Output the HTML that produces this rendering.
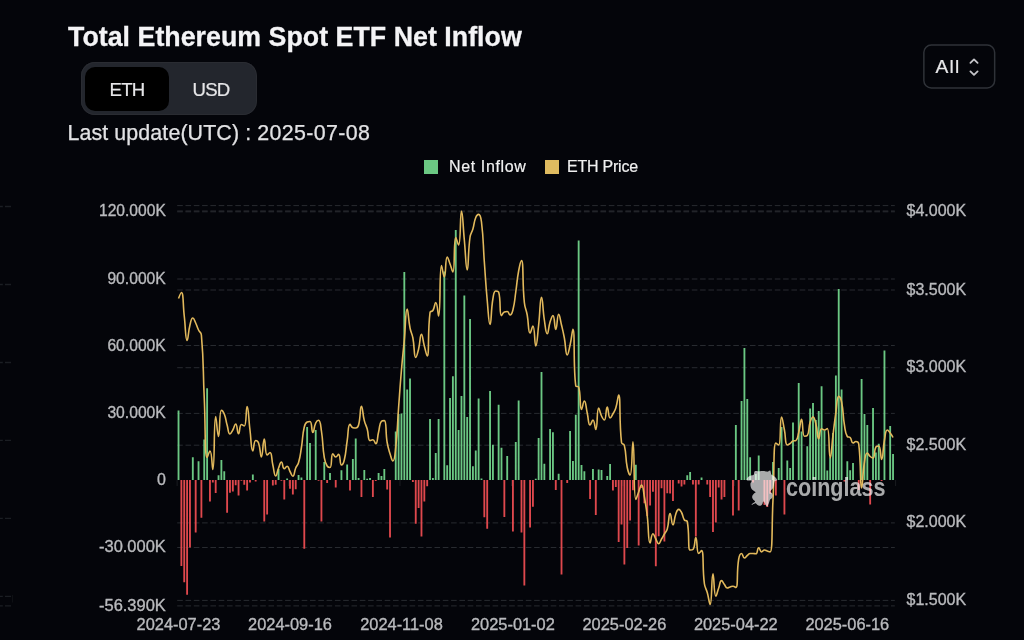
<!DOCTYPE html>
<html lang="en"><head><meta charset="utf-8"><title>Total Ethereum Spot ETF Net Inflow</title>
<style>
html,body{margin:0;padding:0;background:#04050a;}
body{width:1024px;height:640px;position:relative;overflow:hidden;font-family:"Liberation Sans",Arial,sans-serif;color:#ececec;}
.title{position:absolute;left:68px;top:20.5px;font-size:26.75px;font-weight:700;line-height:32px;color:#f4f4f6;white-space:nowrap;letter-spacing:0.03px;-webkit-text-stroke:0.3px #f4f4f6;}
.toggle{position:absolute;left:81px;top:62px;width:176px;height:53px;border-radius:14px;background:#23262d;box-sizing:border-box;box-shadow:inset 0 0 0 1px #2a2c32;}
.toggle .on{position:absolute;left:4px;top:4.5px;width:84px;height:44px;border-radius:10px;background:#000;}
.toggle span{position:absolute;top:0.5px;-webkit-text-stroke:0.2px #e6e6e8;height:52px;line-height:53px;font-size:18.6px;letter-spacing:-0.8px;color:#e6e6e8;text-align:center;width:84px;}
.toggle .a{left:4px;} .toggle .b{left:88px;}
.upd{position:absolute;left:67.5px;top:119.6px;font-size:21.4px;line-height:26px;color:#e2e2e4;white-space:nowrap;letter-spacing:0.1px;-webkit-text-stroke:0.25px #e2e2e4;}
.upd span{letter-spacing:0.37px;}
.sel{position:absolute;left:923px;top:44px;width:72.5px;height:45px;border:0;box-sizing:border-box;}
.sel span{position:absolute;left:12.5px;top:0.9px;line-height:43px;font-size:19.2px;letter-spacing:1.25px;color:#e8e8ea;-webkit-text-stroke:0.2px #e8e8ea;}
.chev{position:absolute;left:965.5px;top:54.5px;}
.legend{position:absolute;top:156px;left:0;font-size:16px;line-height:20px;color:#ececec;white-space:nowrap;}
.legend i{position:absolute;top:4px;width:14px;height:14px;display:block;}
.legend b{position:absolute;top:1.2px;color:#f0f0f0;font-weight:400;-webkit-text-stroke:0.2px #f0f0f0;letter-spacing:0.55px;}
.chart{position:absolute;left:0;top:0;}
</style></head><body>
<div class="title">Total Ethereum Spot ETF Net Inflow</div>
<div class="toggle"><div class="on"></div><span class="a">ETH</span><span class="b">USD</span></div>
<div class="upd">Last update(UTC) : <span>2025-07-08</span></div>
<div class="sel"><span>All</span></div><svg class="chev" width="16" height="24" viewBox="0 0 16 24"><path d="M4.400 7.900L8 4.400L11.600 7.900M4.400 16.400L8 19.900L11.600 16.400" fill="none" stroke="#c6c6ca" stroke-width="1.8" stroke-linecap="round" stroke-linejoin="round"/></svg>
<div class="legend"><i style="left:424px;background:#6bc883"></i><b style="left:449px;letter-spacing:0.62px">Net Inflow</b><i style="left:545px;background:#dfbb60"></i><b style="left:567px;letter-spacing:-0.23px">ETH Price</b></div>
<svg class="chart" width="1024" height="640" viewBox="0 0 1024 640"><g stroke="#282b30" stroke-width="1" stroke-dasharray="5.6 2.7" fill="none"><path d="M177.2 205.6H894.8"/><path d="M177.2 211.0H894.8"/><path d="M177.2 279.0H894.8"/><path d="M177.2 345.5H894.8"/><path d="M177.2 413.4H894.8"/><path d="M177.2 547.5H894.8"/><path d="M177.2 605.9H894.8"/><path d="M177.2 211.8H894.8"/><path d="M177.2 290.0H894.8"/><path d="M177.2 367.7H894.8"/><path d="M177.2 445.2H894.8"/><path d="M177.2 522.9H894.8"/><path d="M177.2 600.4H894.8"/></g><g stroke="#1b1e23" stroke-width="1.4" fill="none"><path d="M0 206.5H2.800M5 206.5H11"/><path d="M0 284.5H2.800M5 284.5H11"/><path d="M0 362.5H2.800M5 362.5H11"/><path d="M0 440.4H2.800M5 440.4H11"/><path d="M0 518.4H2.800M5 518.4H11"/><path d="M0 596.4H2.800M5 596.4H11"/><path d="M0 605.9H2.800M5 605.9H11"/><path d="M12.5 595V602.5" stroke="#0e1014" stroke-width="1"/></g><g stroke="#1a1c21" stroke-width="1"><path d="M177.1 480V486"/><path d="M288.6 480V486"/><path d="M400.0 480V486"/><path d="M511.5 480V486"/><path d="M622.9 480V486"/><path d="M734.4 480V486"/><path d="M845.9 480V486"/><path d="M895.6 480V486"/></g><path fill="#6bc883" d="M177.60 410.60h1.85V479.9h-1.85zM191.89 457.25h1.85V479.9h-1.85zM197.61 461.25h1.85V479.9h-1.85zM203.33 439.40h1.85V479.9h-1.85zM206.19 388.30h1.85V479.9h-1.85zM217.62 475.25h1.85V479.9h-1.85zM220.47 460.00h1.85V479.9h-1.85zM223.33 471.25h1.85V479.9h-1.85zM251.91 474.50h1.85V479.9h-1.85zM277.63 469.00h1.85V479.9h-1.85zM286.21 478.50h1.85V479.9h-1.85zM297.64 475.00h1.85V479.9h-1.85zM300.50 477.50h1.85V479.9h-1.85zM306.21 426.90h1.85V479.9h-1.85zM309.07 443.10h1.85V479.9h-1.85zM314.79 430.00h1.85V479.9h-1.85zM323.36 461.90h1.85V479.9h-1.85zM329.08 472.90h1.85V479.9h-1.85zM340.51 470.25h1.85V479.9h-1.85zM346.23 464.40h1.85V479.9h-1.85zM351.94 459.00h1.85V479.9h-1.85zM354.80 438.50h1.85V479.9h-1.85zM357.66 478.00h1.85V479.9h-1.85zM363.38 470.00h1.85V479.9h-1.85zM366.23 478.70h1.85V479.9h-1.85zM369.09 478.00h1.85V479.9h-1.85zM377.67 473.00h1.85V479.9h-1.85zM380.52 476.00h1.85V479.9h-1.85zM383.38 469.00h1.85V479.9h-1.85zM394.81 431.50h1.85V479.9h-1.85zM397.67 414.00h1.85V479.9h-1.85zM400.53 413.50h1.85V479.9h-1.85zM403.39 272.00h1.85V479.9h-1.85zM406.25 389.50h1.85V479.9h-1.85zM409.10 378.50h1.85V479.9h-1.85zM429.11 419.00h1.85V479.9h-1.85zM431.97 478.00h1.85V479.9h-1.85zM434.82 453.00h1.85V479.9h-1.85zM437.68 419.00h1.85V479.9h-1.85zM443.40 271.50h1.85V479.9h-1.85zM446.26 465.25h1.85V479.9h-1.85zM449.11 398.00h1.85V479.9h-1.85zM451.97 376.25h1.85V479.9h-1.85zM454.83 230.00h1.85V479.9h-1.85zM457.69 430.00h1.85V479.9h-1.85zM460.55 396.00h1.85V479.9h-1.85zM463.41 295.60h1.85V479.9h-1.85zM466.26 417.00h1.85V479.9h-1.85zM469.12 319.00h1.85V479.9h-1.85zM471.98 466.25h1.85V479.9h-1.85zM474.84 450.60h1.85V479.9h-1.85zM477.69 398.50h1.85V479.9h-1.85zM480.55 478.50h1.85V479.9h-1.85zM489.13 391.00h1.85V479.9h-1.85zM491.98 444.75h1.85V479.9h-1.85zM497.70 404.75h1.85V479.9h-1.85zM500.56 447.75h1.85V479.9h-1.85zM506.28 455.90h1.85V479.9h-1.85zM514.85 441.90h1.85V479.9h-1.85zM517.71 400.60h1.85V479.9h-1.85zM534.86 478.75h1.85V479.9h-1.85zM537.71 438.00h1.85V479.9h-1.85zM540.57 371.90h1.85V479.9h-1.85zM543.43 463.75h1.85V479.9h-1.85zM549.15 429.00h1.85V479.9h-1.85zM552.00 432.25h1.85V479.9h-1.85zM557.72 473.75h1.85V479.9h-1.85zM569.15 431.00h1.85V479.9h-1.85zM572.01 460.90h1.85V479.9h-1.85zM574.87 414.75h1.85V479.9h-1.85zM577.73 240.60h1.85V479.9h-1.85zM580.58 465.00h1.85V479.9h-1.85zM583.44 471.25h1.85V479.9h-1.85zM592.02 469.00h1.85V479.9h-1.85zM597.73 469.40h1.85V479.9h-1.85zM600.59 470.00h1.85V479.9h-1.85zM606.31 476.00h1.85V479.9h-1.85zM609.16 464.00h1.85V479.9h-1.85zM634.89 464.75h1.85V479.9h-1.85zM686.33 475.20h1.85V479.9h-1.85zM689.19 472.00h1.85V479.9h-1.85zM700.62 477.40h1.85V479.9h-1.85zM734.92 425.00h1.85V479.9h-1.85zM740.63 401.00h1.85V479.9h-1.85zM743.49 348.10h1.85V479.9h-1.85zM746.35 399.00h1.85V479.9h-1.85zM749.21 457.25h1.85V479.9h-1.85zM754.92 474.00h1.85V479.9h-1.85zM757.78 455.60h1.85V479.9h-1.85zM772.07 462.00h1.85V479.9h-1.85zM777.79 468.00h1.85V479.9h-1.85zM780.64 427.00h1.85V479.9h-1.85zM786.36 460.60h1.85V479.9h-1.85zM789.22 468.00h1.85V479.9h-1.85zM792.08 422.50h1.85V479.9h-1.85zM797.79 383.00h1.85V479.9h-1.85zM800.65 431.50h1.85V479.9h-1.85zM806.37 446.25h1.85V479.9h-1.85zM809.22 408.50h1.85V479.9h-1.85zM812.08 403.00h1.85V479.9h-1.85zM814.94 420.00h1.85V479.9h-1.85zM817.80 411.00h1.85V479.9h-1.85zM820.66 386.25h1.85V479.9h-1.85zM823.51 430.60h1.85V479.9h-1.85zM826.37 470.60h1.85V479.9h-1.85zM829.23 457.50h1.85V479.9h-1.85zM832.09 433.00h1.85V479.9h-1.85zM834.95 375.60h1.85V479.9h-1.85zM837.80 289.00h1.85V479.9h-1.85zM840.66 389.40h1.85V479.9h-1.85zM846.38 461.25h1.85V479.9h-1.85zM849.24 470.25h1.85V479.9h-1.85zM852.09 463.00h1.85V479.9h-1.85zM860.67 379.00h1.85V479.9h-1.85zM863.53 414.00h1.85V479.9h-1.85zM866.38 425.00h1.85V479.9h-1.85zM872.10 408.00h1.85V479.9h-1.85zM874.96 452.50h1.85V479.9h-1.85zM877.82 443.75h1.85V479.9h-1.85zM883.53 350.60h1.85V479.9h-1.85zM889.25 426.00h1.85V479.9h-1.85zM892.11 454.00h1.85V479.9h-1.85z"/><path fill="#df484d" d="M180.46 479.9h1.85V565.90h-1.85zM183.32 479.9h1.85V582.25h-1.85zM186.18 479.9h1.85V594.75h-1.85zM189.04 479.9h1.85V547.50h-1.85zM194.75 479.9h1.85V532.50h-1.85zM200.47 479.9h1.85V517.75h-1.85zM209.04 479.9h1.85V501.50h-1.85zM211.90 479.9h1.85V482.50h-1.85zM214.76 479.9h1.85V492.90h-1.85zM226.19 479.9h1.85V512.75h-1.85zM229.05 479.9h1.85V492.75h-1.85zM231.91 479.9h1.85V491.50h-1.85zM234.76 479.9h1.85V485.25h-1.85zM237.62 479.9h1.85V495.60h-1.85zM240.48 479.9h1.85V480.80h-1.85zM243.34 479.9h1.85V484.75h-1.85zM246.20 479.9h1.85V490.60h-1.85zM249.06 479.9h1.85V482.50h-1.85zM254.77 479.9h1.85V481.50h-1.85zM263.34 479.9h1.85V521.60h-1.85zM266.20 479.9h1.85V514.40h-1.85zM271.92 479.9h1.85V485.60h-1.85zM274.78 479.9h1.85V484.75h-1.85zM280.49 479.9h1.85V480.70h-1.85zM283.35 479.9h1.85V499.40h-1.85zM289.07 479.9h1.85V488.75h-1.85zM291.93 479.9h1.85V494.60h-1.85zM294.78 479.9h1.85V489.20h-1.85zM303.36 479.9h1.85V548.75h-1.85zM317.65 479.9h1.85V480.80h-1.85zM320.50 479.9h1.85V521.60h-1.85zM326.22 479.9h1.85V482.90h-1.85zM334.80 479.9h1.85V487.50h-1.85zM349.08 479.9h1.85V490.60h-1.85zM360.52 479.9h1.85V496.90h-1.85zM371.95 479.9h1.85V496.90h-1.85zM374.81 479.9h1.85V481.00h-1.85zM386.24 479.9h1.85V489.60h-1.85zM389.10 479.9h1.85V537.50h-1.85zM411.96 479.9h1.85V481.90h-1.85zM414.82 479.9h1.85V523.75h-1.85zM417.68 479.9h1.85V508.00h-1.85zM420.54 479.9h1.85V536.50h-1.85zM423.39 479.9h1.85V501.60h-1.85zM426.25 479.9h1.85V486.25h-1.85zM483.41 479.9h1.85V517.25h-1.85zM486.27 479.9h1.85V528.75h-1.85zM503.42 479.9h1.85V516.90h-1.85zM511.99 479.9h1.85V531.50h-1.85zM520.57 479.9h1.85V532.50h-1.85zM523.42 479.9h1.85V585.60h-1.85zM529.14 479.9h1.85V527.50h-1.85zM532.00 479.9h1.85V506.75h-1.85zM554.86 479.9h1.85V490.00h-1.85zM560.58 479.9h1.85V574.40h-1.85zM566.29 479.9h1.85V483.00h-1.85zM589.16 479.9h1.85V499.00h-1.85zM594.87 479.9h1.85V515.00h-1.85zM612.02 479.9h1.85V490.60h-1.85zM614.88 479.9h1.85V486.90h-1.85zM617.74 479.9h1.85V541.90h-1.85zM620.60 479.9h1.85V524.50h-1.85zM623.45 479.9h1.85V564.40h-1.85zM626.31 479.9h1.85V548.00h-1.85zM629.17 479.9h1.85V520.60h-1.85zM632.03 479.9h1.85V490.30h-1.85zM637.74 479.9h1.85V545.40h-1.85zM640.60 479.9h1.85V488.00h-1.85zM643.46 479.9h1.85V503.30h-1.85zM646.32 479.9h1.85V516.00h-1.85zM649.18 479.9h1.85V505.60h-1.85zM652.03 479.9h1.85V491.80h-1.85zM654.89 479.9h1.85V566.25h-1.85zM657.75 479.9h1.85V536.25h-1.85zM660.61 479.9h1.85V488.30h-1.85zM663.47 479.9h1.85V541.50h-1.85zM666.32 479.9h1.85V493.25h-1.85zM669.18 479.9h1.85V493.40h-1.85zM672.04 479.9h1.85V501.00h-1.85zM677.76 479.9h1.85V483.60h-1.85zM680.61 479.9h1.85V486.40h-1.85zM683.47 479.9h1.85V484.50h-1.85zM692.05 479.9h1.85V484.50h-1.85zM694.90 479.9h1.85V536.50h-1.85zM697.76 479.9h1.85V484.50h-1.85zM706.34 479.9h1.85V484.40h-1.85zM709.19 479.9h1.85V496.90h-1.85zM712.05 479.9h1.85V531.90h-1.85zM714.91 479.9h1.85V522.50h-1.85zM717.77 479.9h1.85V487.50h-1.85zM720.62 479.9h1.85V499.40h-1.85zM723.48 479.9h1.85V496.90h-1.85zM732.06 479.9h1.85V515.60h-1.85zM737.77 479.9h1.85V510.60h-1.85zM752.06 479.9h1.85V482.50h-1.85zM763.50 479.9h1.85V505.00h-1.85zM766.35 479.9h1.85V506.90h-1.85zM769.21 479.9h1.85V493.75h-1.85zM774.93 479.9h1.85V495.60h-1.85zM783.50 479.9h1.85V514.40h-1.85zM843.52 479.9h1.85V481.50h-1.85zM857.81 479.9h1.85V490.00h-1.85zM869.24 479.9h1.85V504.40h-1.85zM880.67 479.9h1.85V481.00h-1.85z"/><path fill="none" stroke="#e2b95c" stroke-width="1.6" stroke-linejoin="round" d="M178.53 298.50C178.53 298.50 180.76 292.50 181.39 292.50C183.62 292.50 182.85 304.25 184.25 316.00C185.70 328.25 185.36 340.50 187.10 340.50C188.22 340.50 188.03 332.60 189.96 325.00C190.89 321.35 191.20 318.00 192.82 318.00C194.06 318.00 194.44 320.41 195.68 323.00C197.30 326.41 196.91 326.59 198.54 330.00C199.77 332.59 201.15 332.15 201.39 335.00C204.01 366.15 202.78 366.50 204.25 398.00C205.64 427.75 204.56 457.50 207.11 457.50C207.41 457.50 209.18 451.00 209.97 451.00C212.04 451.00 212.08 469.50 212.83 469.50C214.94 469.50 213.61 416.50 215.68 416.50C216.47 416.50 217.30 436.50 218.54 436.50C220.16 436.50 218.98 410.25 221.40 410.25C221.83 410.25 223.42 411.84 224.26 414.00C226.28 419.21 225.55 419.54 227.12 425.00C228.41 429.54 228.09 434.00 229.97 434.00C230.95 434.00 231.62 432.13 232.83 430.00C234.47 427.13 234.56 424.00 235.69 424.00C237.42 424.00 237.08 433.75 238.55 433.75C239.94 433.75 239.26 424.50 241.41 424.50C242.12 424.50 243.86 426.00 244.26 426.00C246.72 426.00 245.82 406.50 247.12 406.50C248.68 406.50 248.47 418.26 249.98 430.00C251.33 440.51 250.95 451.00 252.84 451.00C253.81 451.00 253.58 440.50 255.70 440.50C256.44 440.50 257.95 441.27 258.55 443.00C260.81 449.52 260.16 457.00 261.41 457.00C263.01 457.00 262.76 439.00 264.27 439.00C265.62 439.00 264.81 455.00 267.13 455.00C267.67 455.00 269.33 452.50 269.99 452.50C272.19 452.50 271.33 458.77 272.84 465.00C274.19 470.52 274.07 476.00 275.70 476.00C276.92 476.00 276.96 471.93 278.56 468.00C279.81 464.93 280.06 462.00 281.42 462.00C282.92 462.00 282.39 468.75 284.28 468.75C285.25 468.75 286.02 466.25 287.13 466.25C288.88 466.25 288.51 468.91 289.99 471.50C291.37 473.91 291.74 476.25 292.85 476.25C294.60 476.25 294.04 472.02 295.71 468.00C296.89 465.15 297.74 465.46 298.57 462.50C300.60 455.21 300.21 455.04 301.42 447.50C303.07 437.29 302.05 436.97 304.28 427.00C304.90 424.22 305.24 422.99 307.14 422.00C308.10 421.50 309.42 421.50 310.00 421.50C312.27 421.50 311.33 432.50 312.86 432.50C314.19 432.50 313.67 427.38 315.71 423.00C316.53 421.25 317.82 420.25 318.57 420.25C320.68 420.25 320.59 425.52 321.43 431.00C323.45 444.14 322.15 444.41 324.29 457.50C325.01 461.91 325.04 462.32 327.15 466.00C327.90 467.32 329.47 467.50 330.00 467.50C332.33 467.50 330.68 453.75 332.86 453.75C333.54 453.75 334.21 457.00 335.72 457.00C337.07 457.00 337.83 454.40 338.58 454.40C340.69 454.40 339.56 465.00 341.44 465.00C342.42 465.00 343.63 462.77 344.29 460.00C346.49 450.77 345.63 450.48 347.15 441.00C348.49 432.68 347.74 424.40 350.01 424.40C350.60 424.40 351.14 427.37 352.87 427.75C354.00 428.00 354.56 428.00 355.73 428.00C357.41 428.00 358.07 426.95 358.58 425.00C360.93 416.07 359.83 406.25 361.44 406.25C362.69 406.25 362.50 413.53 364.30 420.60C365.36 424.78 365.97 424.60 367.16 428.75C368.83 434.60 367.72 440.60 370.02 440.60C370.58 440.60 371.80 439.75 372.87 439.75C374.65 439.75 374.91 443.75 375.73 443.75C377.76 443.75 377.10 437.86 378.59 432.00C379.96 426.61 379.19 423.72 381.45 421.25C382.04 420.60 383.97 420.60 384.31 420.60C386.83 420.60 385.29 431.64 387.16 442.50C388.15 448.21 388.31 448.22 390.02 453.75C391.17 457.47 391.85 461.00 392.88 461.00C394.71 461.00 395.01 454.35 395.74 447.50C397.86 427.60 397.12 427.50 398.60 407.50C399.98 388.75 399.87 388.74 401.45 370.00C402.73 354.99 402.91 355.00 404.31 340.00C405.76 324.50 405.40 309.00 407.17 309.00C408.26 309.00 408.17 318.59 410.03 328.00C411.03 333.09 411.90 332.90 412.89 338.00C414.76 347.65 413.78 357.50 415.74 357.50C416.64 357.50 417.53 353.34 418.60 349.00C420.39 341.79 419.87 334.40 421.46 334.40C422.73 334.40 422.79 340.23 424.32 346.00C425.65 351.03 426.63 356.00 427.18 356.00C429.48 356.00 427.39 333.56 430.03 312.50C430.25 310.81 432.06 311.96 432.89 310.50C434.92 306.96 434.66 302.50 435.75 302.50C437.52 302.50 437.99 316.00 438.61 316.00C440.85 316.00 439.15 265.60 441.47 265.60C442.01 265.60 443.27 277.00 444.32 277.00C446.13 277.00 445.10 257.00 447.18 257.00C447.96 257.00 448.69 260.47 450.04 264.00C451.55 267.97 452.33 272.00 452.90 272.00C455.19 272.00 453.44 237.50 455.76 237.50C456.29 237.50 458.07 245.00 458.61 245.00C460.93 245.00 459.93 211.00 461.47 211.00C462.79 211.00 462.92 225.50 464.33 240.00C465.78 255.00 465.83 270.00 467.19 270.00C468.68 270.00 467.77 253.32 470.05 237.00C470.63 232.82 471.71 233.07 472.90 229.00C474.57 223.32 473.65 222.88 475.76 217.50C476.51 215.58 477.64 214.40 478.62 214.40C480.50 214.40 481.00 217.99 481.48 222.00C483.85 241.79 482.87 242.00 484.34 262.00C485.73 281.00 485.46 281.03 487.19 300.00C488.31 312.23 488.66 324.40 490.05 324.40C491.52 324.40 490.74 311.40 492.91 298.75C493.60 294.70 493.68 291.00 495.77 291.00C496.53 291.00 498.30 291.00 498.63 292.00C501.16 299.85 499.09 315.60 501.48 315.60C501.95 315.60 502.59 312.79 504.34 312.00C505.45 311.50 506.08 311.50 507.20 311.50C508.94 311.50 508.80 315.00 510.06 315.00C511.66 315.00 512.23 312.76 512.92 310.00C515.09 301.26 514.45 301.02 515.77 292.00C517.31 281.52 516.74 281.40 518.63 271.00C519.60 265.70 520.91 260.60 521.49 260.60C523.76 260.60 522.16 281.66 524.35 302.50C525.02 308.86 526.03 308.70 527.21 315.00C528.88 323.95 528.04 333.00 530.06 333.00C530.90 333.00 532.14 326.00 532.92 326.00C535.00 326.00 534.39 346.00 535.78 346.00C537.24 346.00 537.40 335.52 538.64 325.00C540.26 311.15 539.93 297.25 541.50 297.25C542.79 297.25 542.58 308.68 544.35 320.00C545.44 326.93 545.68 333.75 547.21 333.75C548.53 333.75 548.26 327.75 550.07 322.00C551.12 318.67 551.98 315.60 552.93 315.60C554.84 315.60 554.41 329.40 555.79 329.40C557.27 329.40 556.98 314.40 558.64 314.40C559.84 314.40 560.21 319.67 561.50 325.00C563.07 331.47 563.11 331.46 564.36 338.00C565.97 346.46 565.44 355.00 567.22 355.00C568.29 355.00 568.94 350.07 570.08 345.00C571.80 337.27 572.31 329.40 572.93 329.40C575.17 329.40 573.08 367.28 575.79 386.00C575.94 387.00 578.31 386.00 578.65 387.00C581.17 394.46 579.46 409.40 581.51 409.40C582.31 409.40 583.17 401.00 584.37 401.00C586.03 401.00 585.80 407.00 587.22 413.00C588.65 419.00 588.13 425.00 590.08 425.00C590.99 425.00 591.88 420.00 592.94 420.00C594.74 420.00 594.90 429.40 595.80 429.40C597.76 429.40 596.61 408.00 598.66 408.00C599.46 408.00 599.70 412.20 601.51 416.00C602.56 418.20 603.60 420.00 604.37 420.00C606.46 420.00 605.69 407.00 607.23 407.00C608.55 407.00 608.12 418.00 610.09 418.00C610.98 418.00 611.68 415.97 612.95 413.75C614.54 410.97 614.87 411.05 615.80 408.00C617.73 401.68 618.04 395.00 618.66 395.00C620.90 395.00 618.89 419.26 621.52 442.50C621.75 444.56 623.92 443.60 624.38 445.60C626.78 456.10 625.14 456.72 627.24 467.50C628.00 471.42 629.54 475.00 630.09 475.00C632.40 475.00 631.91 441.90 632.95 441.90C634.77 441.90 633.30 499.50 635.81 499.50C636.16 499.50 637.20 495.73 638.67 492.00C640.05 488.48 640.44 485.00 641.53 485.00C643.30 485.00 643.27 490.94 644.38 497.00C646.12 506.44 646.06 506.47 647.24 516.00C648.92 529.47 647.99 543.00 650.10 543.00C650.85 543.00 651.19 533.75 652.96 533.75C654.05 533.75 654.33 536.41 655.82 539.00C657.19 541.41 657.25 543.75 658.67 543.75C660.10 543.75 660.13 541.39 661.53 539.00C662.99 536.52 662.96 536.50 664.39 534.00C665.82 531.50 666.48 531.74 667.25 529.00C669.34 521.54 668.46 513.60 670.11 513.60C671.32 513.60 671.51 524.80 672.96 524.80C674.37 524.80 673.90 519.19 675.82 514.00C676.76 511.49 677.07 509.40 678.68 509.40C679.93 509.40 680.55 510.67 681.54 512.50C683.41 515.97 682.36 516.79 684.40 520.00C685.22 521.29 686.96 520.00 687.25 521.50C689.82 534.81 687.52 550.00 690.11 550.00C690.37 550.00 692.43 550.00 692.97 549.50C695.28 547.37 694.59 537.50 695.83 537.50C697.45 537.50 696.40 553.50 698.69 553.50C699.26 553.50 701.23 550.60 701.54 550.60C704.09 550.60 702.16 567.34 704.40 583.75C705.02 588.29 706.03 588.07 707.26 592.50C708.89 598.39 709.30 604.40 710.12 604.40C712.16 604.40 711.33 573.75 712.98 573.75C714.19 573.75 713.77 596.25 715.83 596.25C716.63 596.25 717.19 592.10 718.69 588.00C720.05 584.27 719.77 580.60 721.55 580.60C722.63 580.60 722.93 582.59 724.41 584.50C725.79 586.29 725.55 588.00 727.27 588.00C728.41 588.00 728.68 587.44 730.12 587.00C731.54 586.57 731.59 586.25 732.98 586.25C734.45 586.25 735.56 587.50 735.84 587.50C738.42 587.50 736.35 572.98 738.70 559.00C739.21 555.98 740.02 553.50 741.56 553.50C742.88 553.50 742.74 558.00 744.41 558.00C745.60 558.00 745.78 556.67 747.27 555.50C748.64 554.42 748.56 553.50 750.13 553.50C751.42 553.50 751.56 553.50 752.99 553.50C754.42 553.50 754.98 553.75 755.85 553.75C757.84 553.75 757.08 547.75 758.70 547.75C759.94 547.75 759.86 551.90 761.56 551.90C762.72 551.90 762.90 550.00 764.42 550.00C765.76 550.00 765.84 550.52 767.28 551.00C768.70 551.47 769.98 551.90 770.14 551.90C772.84 551.90 771.63 525.95 772.99 500.00C774.49 471.50 773.16 443.00 775.85 443.00C776.02 443.00 778.39 445.00 778.71 445.00C781.25 445.00 779.63 417.00 781.57 417.00C782.49 417.00 783.09 423.48 784.43 430.00C785.95 437.48 784.92 445.00 787.28 445.00C787.78 445.00 788.83 444.42 790.14 443.50C791.69 442.42 791.38 441.53 793.00 441.00C794.23 440.60 795.14 441.00 795.86 440.60C798.00 439.41 797.60 436.64 798.72 432.50C800.46 426.04 800.32 419.40 801.57 419.40C803.18 419.40 801.99 436.25 804.43 436.25C804.85 436.25 806.79 436.25 807.29 435.60C809.65 432.52 808.13 428.58 810.15 422.00C810.99 419.28 811.75 417.00 813.01 417.00C814.61 417.00 814.94 420.22 815.86 423.75C817.80 431.10 817.02 438.75 818.72 438.75C819.88 438.75 819.38 428.75 821.58 428.75C822.24 428.75 823.03 430.00 824.44 430.00C825.89 430.00 827.02 428.50 827.30 428.50C829.87 428.50 828.55 458.00 830.15 458.00C831.41 458.00 831.57 446.50 833.01 435.00C834.43 423.75 834.22 423.72 835.87 412.50C837.07 404.34 836.67 396.25 838.73 396.25C839.53 396.25 840.97 398.88 841.59 402.00C843.82 413.26 842.55 413.59 844.44 425.00C845.41 430.84 845.03 432.59 847.30 436.50C847.88 437.50 849.22 436.50 850.16 437.50C852.08 439.55 851.14 443.00 853.02 443.00C854.00 443.00 854.56 441.50 855.88 441.50C857.42 441.50 858.51 442.16 858.73 444.00C861.37 465.41 859.80 488.00 861.59 488.00C862.66 488.00 862.35 474.86 864.45 462.00C865.21 457.36 865.37 453.00 867.31 453.00C868.23 453.00 868.50 455.04 870.17 456.50C871.36 457.54 872.39 458.00 873.02 458.00C875.25 458.00 873.63 450.75 875.88 447.00C876.48 446.00 878.22 446.00 878.74 446.00C881.08 446.00 880.42 459.40 881.60 459.40C883.28 459.40 882.59 449.61 884.46 440.00C885.45 434.91 885.27 430.00 887.31 430.00C888.13 430.00 888.92 431.36 890.17 433.00C891.78 435.11 893.03 437.50 893.03 437.50"/><rect x="923.85" y="45.1" width="70.8" height="42.8" rx="7.5" fill="none" stroke="#2f3238" stroke-width="1.5"/><g fill="#ffffff" opacity="0.66"><path d="M754.4 471.7C754.8 471.0 755.4 471.0 756.2 471.0C756.9 470.9 758.2 471.3 759.0 471.3C759.8 471.3 760.2 471.0 761.1 471.0C762.0 470.9 763.2 470.9 764.2 471.0C765.3 471.1 766.6 471.7 767.4 471.7C768.2 471.7 768.3 471.1 768.8 471.0C769.3 470.8 769.9 470.3 770.2 470.6C770.6 470.9 770.7 472.1 770.9 472.7C771.1 473.4 770.9 474.0 771.3 474.5C771.6 475.0 772.4 475.1 773.0 475.5C773.7 476.0 774.6 476.4 775.1 476.9C775.7 477.5 776.2 478.2 776.5 478.7C776.9 479.2 777.4 479.8 777.2 480.1C777.1 480.5 776.0 480.5 775.5 480.8C775.0 481.1 774.7 481.0 774.4 481.9C774.1 482.7 774.0 485.0 773.7 486.1C773.5 487.1 773.3 487.7 773.0 488.2C772.7 488.7 772.4 488.7 772.0 489.2C771.5 489.8 770.2 491.1 770.2 491.7C770.2 492.3 771.6 492.5 772.0 493.1C772.4 493.7 772.7 494.4 772.7 495.2C772.7 496.0 772.4 497.3 772.0 498.0C771.6 498.7 770.7 498.7 770.2 499.4C769.7 500.1 769.5 501.3 769.2 502.2C768.8 503.2 768.5 504.4 768.1 505.1C767.8 505.8 767.5 506.6 767.1 506.5C766.6 506.3 765.8 505.1 765.3 504.4C764.8 503.7 764.6 502.7 764.2 502.2C763.9 501.8 763.5 501.3 763.2 501.5C762.9 501.8 762.8 503.0 762.5 503.7C762.1 504.3 761.7 505.1 761.1 505.4C760.5 505.8 759.6 505.9 759.0 505.8C758.3 505.6 757.7 505.1 757.2 504.7C756.7 504.3 756.3 503.5 755.8 503.3C755.3 503.1 754.8 503.4 754.1 503.7C753.4 503.9 751.9 505.1 751.6 505.1C751.3 505.1 751.9 504.1 752.3 503.7C752.7 503.2 753.6 502.9 754.1 502.6C754.5 502.2 755.2 502.0 755.1 501.5C755.1 501.1 754.2 500.7 753.7 500.1C753.2 499.6 752.5 498.7 752.3 498.0C752.1 497.3 752.1 496.6 752.3 495.9C752.5 495.3 752.9 494.7 753.4 494.2C753.8 493.6 754.8 493.1 755.1 492.8C755.5 492.4 755.8 492.5 755.5 492.1C755.1 491.6 753.7 490.9 753.0 490.3C752.3 489.7 751.7 489.0 751.2 488.2C750.8 487.4 750.7 486.6 750.5 485.7C750.4 484.9 750.4 484.1 750.5 483.3C750.7 482.5 751.7 481.3 751.6 480.8C751.5 480.3 750.5 480.5 749.8 480.5C749.1 480.4 747.9 480.7 747.4 480.6C746.9 480.5 746.7 480.1 746.7 479.8C746.6 479.4 746.7 478.9 747.0 478.4C747.4 477.8 748.1 477.1 748.8 476.6C749.5 476.1 750.4 475.7 751.2 475.4C752.1 475.1 753.2 475.5 753.7 474.8C754.2 474.2 754.0 472.3 754.4 471.7z"/><text x="786" y="495.7" font-family="Liberation Sans, Arial, sans-serif" font-weight="700" font-size="22" textLength="99.5" lengthAdjust="spacingAndGlyphs" transform="translate(0 495.7) scale(1 1.17) translate(0 -495.7)">coinglass</text></g><g fill="#b9babd" stroke="#b9babd" stroke-width="0.35" font-family="Liberation Sans, Arial, sans-serif" font-size="16"><text x="165.8" y="215.9" text-anchor="end" textLength="66.8" lengthAdjust="spacingAndGlyphs">120.000K</text><text x="165.8" y="284.0" text-anchor="end" textLength="58.4" lengthAdjust="spacingAndGlyphs">90.000K</text><text x="165.8" y="350.5" text-anchor="end" textLength="58.4" lengthAdjust="spacingAndGlyphs">60.000K</text><text x="165.8" y="418.0" text-anchor="end" textLength="58.4" lengthAdjust="spacingAndGlyphs">30.000K</text><text x="165.8" y="484.9" text-anchor="end" textLength="8.9" lengthAdjust="spacingAndGlyphs">0</text><text x="165.8" y="552.4" text-anchor="end" textLength="66.8" lengthAdjust="spacingAndGlyphs">-30.000K</text><text x="165.8" y="611.0" text-anchor="end" textLength="66.8" lengthAdjust="spacingAndGlyphs">-56.390K</text><text x="906.5" y="216.3">$4.000K</text><text x="906.5" y="294.5">$3.500K</text><text x="906.5" y="372.2">$3.000K</text><text x="906.5" y="449.7">$2.500K</text><text x="906.5" y="527.4">$2.000K</text><text x="906.5" y="604.9">$1.500K</text><text x="178.5" y="630.3" text-anchor="middle" font-size="16.4">2024-07-23</text><text x="290.0" y="630.3" text-anchor="middle" font-size="16.4">2024-09-16</text><text x="401.5" y="630.3" text-anchor="middle" font-size="16.4">2024-11-08</text><text x="512.9" y="630.3" text-anchor="middle" font-size="16.4">2025-01-02</text><text x="624.4" y="630.3" text-anchor="middle" font-size="16.4">2025-02-26</text><text x="735.8" y="630.3" text-anchor="middle" font-size="16.4">2025-04-22</text><text x="847.3" y="630.3" text-anchor="middle" font-size="16.4">2025-06-16</text></g></svg>
</body></html>
